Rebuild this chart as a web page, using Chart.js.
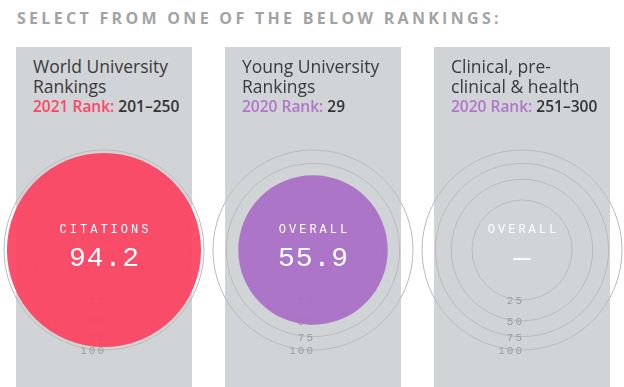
<!DOCTYPE html>
<html>
<head>
<meta charset="utf-8">
<script src="https://cdn.jsdelivr.net/npm/chart.js@4.4.0/dist/chart.umd.min.js"></script>
<style>
  html, body { margin: 0; padding: 0; background: #fff; overflow: hidden; }
  #wrap { position: relative; width: 624px; height: 387px; overflow: hidden; font-family: "Open Sans", sans-serif; }
  #heading { position: absolute; left: 17px; top: 9px; font-size: 16px; line-height: 18px; font-weight: 700;
    letter-spacing: 3.3px; color: #a3a3a3; white-space: nowrap; }
  .panel { position: absolute; top: 47px; width: 176px; height: 340px; background: #d1d4d7; }
  .title { position: absolute; left: 17px; top: 10px; width: 150px; font-size: 17.5px; line-height: 19.5px; color: #3a3a3a; }
  .rank { font-size: 15.5px; line-height: 20px; color: #333; font-weight: 600; }
  .chart { position: absolute; top: 140px; }
</style>
</head>
<body>
<div id="wrap">
  <div id="heading">SELECT FROM ONE OF THE BELOW RANKINGS:</div>
</div>
<script>
const rankingNames = ['World University Rankings', 'Young University Rankings', 'Clinical, pre-clinical & health'];
const rankYears = ['2021 Rank:', '2020 Rank:', '2020 Rank:'];
const rankValues = ['201–250', '29', '251–300'];
const metricNames = ['CITATIONS', 'OVERALL', 'OVERALL'];
const scores = [94.2, 55.9, null];
const tickValues = [25, 50, 75, 100];

const colors = ['rgba(251, 66, 96, 0.93)', 'rgba(170, 112, 198, 0.95)', 'rgba(0,0,0,0)'];
const yearColors = ['#fb4764', '#b274c9', '#b274c9'];
const panelLeft = [16, 225, 434];

// tick labels sit under the data, below centre; centre text on top
const radialText = {
  id: 'radialText',
  beforeDatasetsDraw(chart) {
    const s = chart.scales.r;
    const ctx = chart.ctx;
    ctx.save();
    ctx.font = '11px "Liberation Mono", monospace';
    ctx.letterSpacing = '2px';
    ctx.fillStyle = '#9a9a9a';
    ctx.textAlign = 'right';
    ctx.textBaseline = 'middle';
    s.ticks.forEach((t, i) => {
      if (i === 0) return;
      ctx.fillText(t.label, s.xCenter + 2, s.yCenter + s.getDistanceFromCenterForValue(t.value) + 1.5);
    });
    ctx.restore();
  },
  afterDatasetsDraw(chart, args, opts) {
    const s = chart.scales.r;
    const ctx = chart.ctx;
    ctx.save();
    ctx.fillStyle = '#fff';
    ctx.textAlign = 'center';
    ctx.textBaseline = 'middle';
    ctx.font = '12px "Liberation Mono", monospace';
    ctx.letterSpacing = '3px';
    ctx.fillText(opts.metric, s.xCenter + 1.5, s.yCenter - 20);
    ctx.font = '28px "Liberation Mono", monospace';
    ctx.letterSpacing = '1px';
    const v = opts.score == null ? '—' : opts.score.toFixed(1);
    ctx.fillText(v, s.xCenter + 0.5, s.yCenter + 9);
    ctx.restore();
  }
};

const wrap = document.getElementById('wrap');

rankingNames.forEach((name, i) => {
  const panel = document.createElement('div');
  panel.className = 'panel';
  panel.style.left = panelLeft[i] + 'px';
  panel.innerHTML = '<div class="title">' + name.replace('&', '&amp;') +
    '<div class="rank"><span style="color:' + yearColors[i] + '">' + rankYears[i] + '</span> ' + rankValues[i] + '</div></div>';
  wrap.appendChild(panel);

  const cv = document.createElement('canvas');
  cv.className = 'chart';
  cv.width = 220;
  cv.height = 220;
  cv.style.left = (panelLeft[i] + 88 - 110) + 'px';
  wrap.appendChild(cv);

  new Chart(cv.getContext('2d'), {
    type: 'polarArea',
    data: {
      labels: [metricNames[i]],
      datasets: [{
        data: [scores[i] == null ? null : Math.sqrt(scores[i])],
        backgroundColor: colors[i],
        borderWidth: 0
      }]
    },
    plugins: [radialText],
    options: {
      responsive: false,
      animation: false,
      layout: { padding: 10 },
      plugins: {
        legend: { display: false },
        tooltip: { enabled: false },
        radialText: { metric: metricNames[i], score: scores[i] }
      },
      scales: {
        r: {
          min: 0,
          max: 10,
          // area-proportional rings: radius grows with the square root of the score
          afterBuildTicks: s => { s.ticks = [0, ...tickValues].map(v => ({ value: Math.sqrt(v) })); },
          ticks: { display: false, callback: v => String(Math.round(v * v)) },
          grid: { circular: true, color: '#bababa', lineWidth: 1 },
          angleLines: { display: false },
          pointLabels: { display: false }
        }
      }
    }
  });
});
</script>
</body>
</html>
